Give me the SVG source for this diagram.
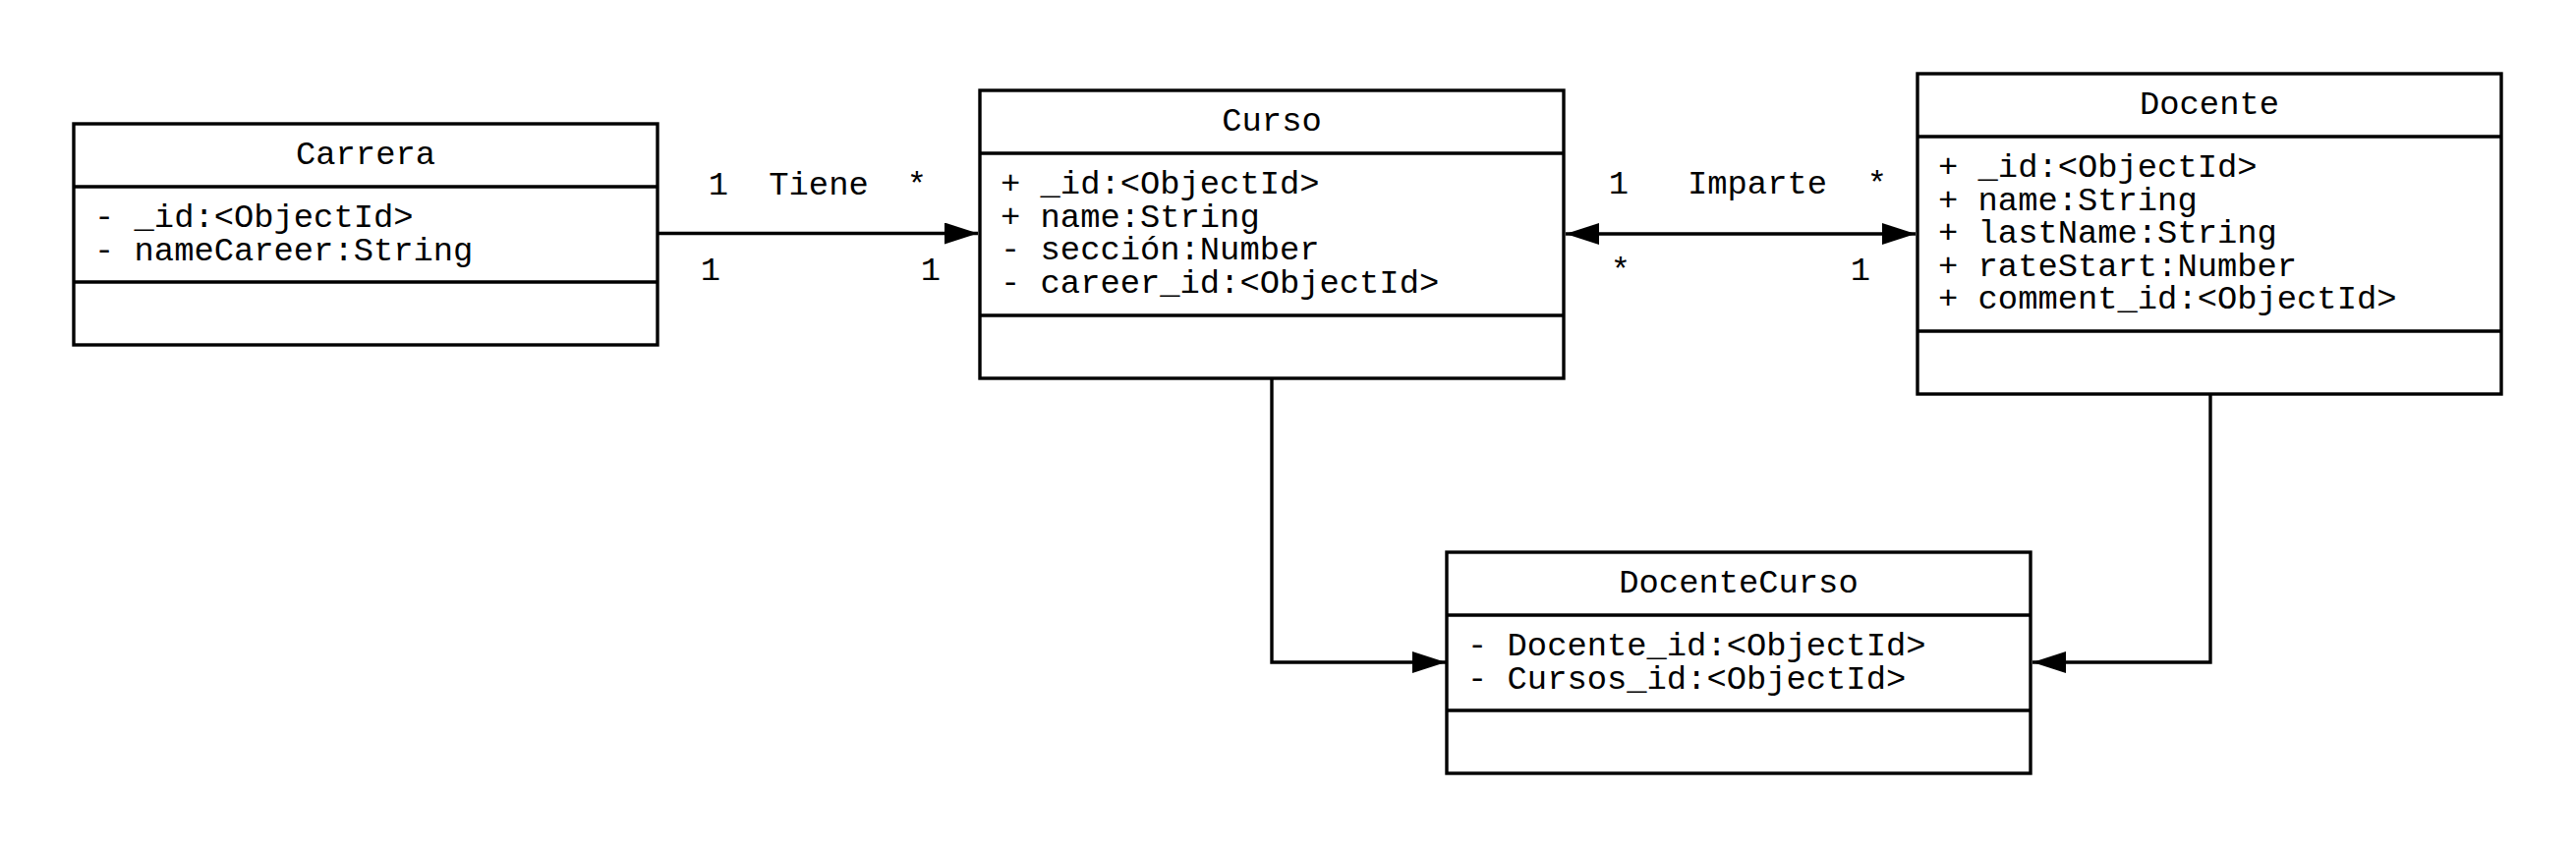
<svg xmlns="http://www.w3.org/2000/svg" width="2621" height="863" viewBox="0 0 2621 863">
<style>
.box{fill:#fff;stroke:#000;stroke-width:3.4}
.div{stroke:#000;stroke-width:3.4}
.t{font-family:"Liberation Mono","DejaVu Sans Mono",monospace;font-size:33.8px;fill:#000}
.c{text-anchor:middle}
.edge{fill:none;stroke:#000;stroke-width:3.4}
</style>
<defs>
<marker id="arr" markerUnits="userSpaceOnUse" markerWidth="36" markerHeight="24" refX="34" refY="11" orient="auto-start-reverse" viewBox="0 0 36 24">
<path d="M0,0 L34,11 L0,22 z" fill="#000"/>
</marker>
</defs>
<g id="connectors">
<line class="edge" x1="669" y1="237.5" x2="995" y2="237.5" marker-end="url(#arr)"/>
<line class="edge" x1="1593" y1="238" x2="1949" y2="238" marker-start="url(#arr)" marker-end="url(#arr)"/>
<polyline class="edge" points="1294,385 1294,674 1471,674" marker-end="url(#arr)"/>
<polyline class="edge" points="2249,401 2249,674 2068,674" marker-end="url(#arr)"/>
<text class="t c" x="731" y="198">1</text>
<text class="t c" x="833" y="198">Tiene</text>
<text class="t c" x="933" y="198">*</text>
<text class="t c" x="723" y="285">1</text>
<text class="t c" x="947" y="285">1</text>
<text class="t c" x="1647" y="197">1</text>
<text class="t c" x="1788" y="197">Imparte</text>
<text class="t c" x="1910" y="197">*</text>
<text class="t c" x="1649" y="285">*</text>
<text class="t c" x="1893" y="285">1</text>
</g>
<g id="Carrera">
<rect class="box" x="75" y="126" width="594" height="225"/>
<line class="div" x1="75" y1="190" x2="669" y2="190"/>
<line class="div" x1="75" y1="287" x2="669" y2="287"/>
<text class="t c" x="372" y="167">Carrera</text>
<text class="t" x="96" y="231">- _id:&lt;ObjectId&gt;</text>
<text class="t" x="96" y="264.5">- nameCareer:String</text>
</g>
<g id="Curso">
<rect class="box" x="997" y="92" width="594" height="293"/>
<line class="div" x1="997" y1="156" x2="1591" y2="156"/>
<line class="div" x1="997" y1="321" x2="1591" y2="321"/>
<text class="t c" x="1294" y="133">Curso</text>
<text class="t" x="1018" y="197">+ _id:&lt;ObjectId&gt;</text>
<text class="t" x="1018" y="230.5">+ name:String</text>
<text class="t" x="1018" y="264">- sección:Number</text>
<text class="t" x="1018" y="297.5">- career_id:&lt;ObjectId&gt;</text>
</g>
<g id="Docente">
<rect class="box" x="1951" y="75" width="594" height="326"/>
<line class="div" x1="1951" y1="139" x2="2545" y2="139"/>
<line class="div" x1="1951" y1="337" x2="2545" y2="337"/>
<text class="t c" x="2248" y="116">Docente</text>
<text class="t" x="1972" y="180">+ _id:&lt;ObjectId&gt;</text>
<text class="t" x="1972" y="213.5">+ name:String</text>
<text class="t" x="1972" y="247">+ lastName:String</text>
<text class="t" x="1972" y="280.5">+ rateStart:Number</text>
<text class="t" x="1972" y="314">+ comment_id:&lt;ObjectId&gt;</text>
</g>
<g id="DocenteCurso">
<rect class="box" x="1472" y="562" width="594" height="225"/>
<line class="div" x1="1472" y1="626" x2="2066" y2="626"/>
<line class="div" x1="1472" y1="723" x2="2066" y2="723"/>
<text class="t c" x="1769" y="603">DocenteCurso</text>
<text class="t" x="1493" y="667">- Docente_id:&lt;ObjectId&gt;</text>
<text class="t" x="1493" y="700.5">- Cursos_id:&lt;ObjectId&gt;</text>
</g>
</svg>
